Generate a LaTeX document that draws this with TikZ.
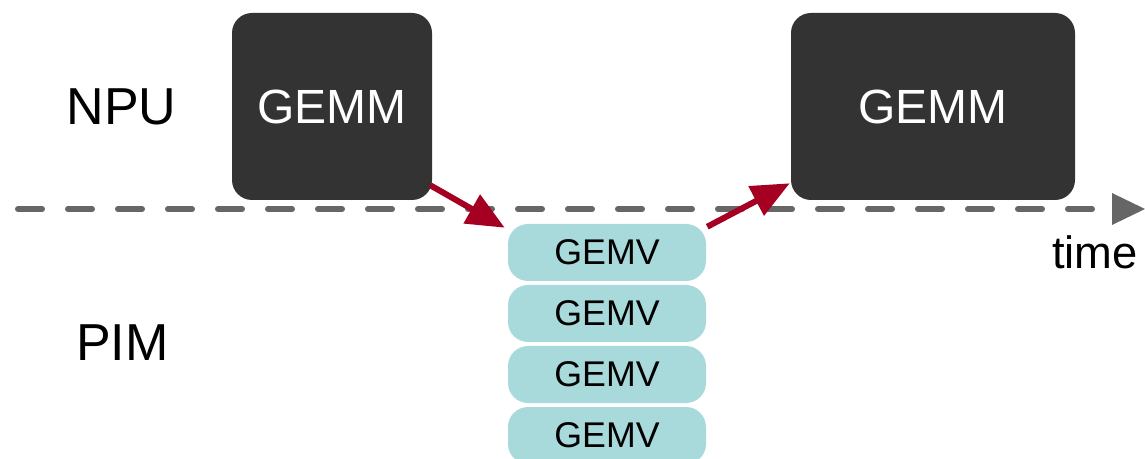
\documentclass[tikz,border=0pt]{standalone}
\usepackage{fontspec}
\setmainfont{Liberation Sans}
\usetikzlibrary{arrows.meta}
\definecolor{gemmfill}{RGB}{51,51,51}
\definecolor{gemvfill}{RGB}{168,218,220}
\definecolor{flowred}{RGB}{165,0,33}
\definecolor{axisgray}{RGB}{102,102,102}
\tikzset{
  gemmbox/.style={fill=gemmfill, rounded corners=20*0.75pt, inner sep=0pt,
    text=white, font=\fontsize{36}{36}\selectfont},
  gemvbox/.style={fill=gemvfill, rounded corners=20*0.75pt, inner sep=0pt,
    minimum width=198*0.75pt, minimum height=57*0.75pt,
    font=\fontsize{26.8}{26.8}\selectfont},
  rowlabel/.style={inner sep=0pt, font=\fontsize{39}{39}\selectfont},
  flow/.style={draw=flowred, line width=6*0.75pt,
    -{Triangle[length=38*0.75pt, width=32*0.75pt]}},
  timeline/.style={draw=axisgray, line width=6*0.75pt, line cap=round,
    dash pattern=on 24*0.75pt off 26*0.75pt}
}
\begin{document}
\begin{tikzpicture}[x=0.75pt, y=-0.75pt]
  \useasboundingbox (0,0) rectangle (1145,459);

  % time axis
  \coordinate (t0) at (18,209);
  \coordinate (t1) at (1112,209);
  \draw[timeline] (t0) -- (t1);
  \fill[axisgray] (1112,193) -- (1145,209) -- (1112,225) -- cycle;
  \node[inner sep=0pt, font=\fontsize{34}{34}\selectfont] (time) at (1095,252) {time};

  % row labels
  \node[rowlabel] (npu) at (121.5,106.5) {NPU};
  \node[rowlabel] (pim) at (122.5,343) {PIM};

  % NPU kernels
  \node[gemmbox, minimum width=200*0.75pt, minimum height=187*0.75pt] (g1) at (332,106.5) {GEMM};
  \node[gemmbox, minimum width=284*0.75pt, minimum height=187*0.75pt] (g2) at (933,106.5) {GEMM};

  % PIM kernels
  \node[gemvbox] (v1) at (607,252.5) {GEMV};
  \node[gemvbox] (v2) at (607,313.5) {GEMV};
  \node[gemvbox] (v3) at (607,374.5) {GEMV};
  \node[gemvbox] (v4) at (607,435.5) {GEMV};

  % hand-offs between NPU and PIM
  \draw[flow] ([shift={(-2,-15)}]g1.south east) -- ([shift={(-3,4)}]v1.north west);
  \draw[flow] ([shift={(1,3)}]v1.north east) -- ([shift={(-1,-17)}]g2.south west);
\end{tikzpicture}
\end{document}
